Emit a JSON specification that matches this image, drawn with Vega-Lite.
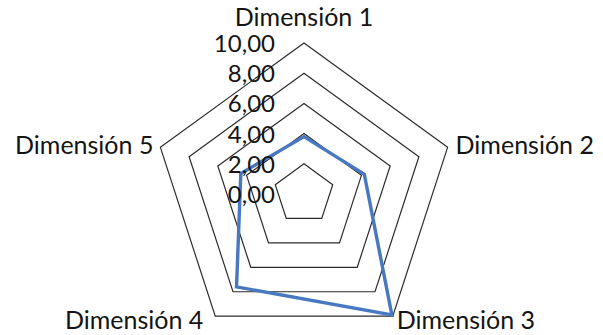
{
  "$schema": "https://vega.github.io/schema/vega-lite/v6.json",
  "width": 603,
  "height": 335,
  "padding": 0,
  "autosize": {"type": "none"},
  "config": {"view": {"stroke": null}, "text": {"font": "Lato", "fontSize": 25, "color": "#141414"}},
  "datasets": {
    "series": [
      {"dim": "Dimensión 1", "k": 0, "value": 3.8},
      {"dim": "Dimensión 2", "k": 1, "value": 4.2},
      {"dim": "Dimensión 3", "k": 2, "value": 9.9},
      {"dim": "Dimensión 4", "k": 3, "value": 7.6},
      {"dim": "Dimensión 5", "k": 4, "value": 4.4}
    ],
    "levels": [
      {"level": 0, "label": "0,00", "k": []},
      {"level": 2, "label": "2,00", "k": [0, 1, 2, 3, 4]},
      {"level": 4, "label": "4,00", "k": [0, 1, 2, 3, 4]},
      {"level": 6, "label": "6,00", "k": [0, 1, 2, 3, 4]},
      {"level": 8, "label": "8,00", "k": [0, 1, 2, 3, 4]},
      {"level": 10, "label": "10,00", "k": [0, 1, 2, 3, 4]}
    ]
  },
  "layer": [
    {
      "data": {"name": "levels"},
      "transform": [
        {"flatten": ["k"]},
        {"filter": "datum.level > 0"},
        {"calculate": "datum.level * cos(PI/2 - datum.k * 2 * PI / 5)", "as": "px"},
        {"calculate": "datum.level * sin(PI/2 - datum.k * 2 * PI / 5)", "as": "py"}
      ],
      "mark": {"type": "line", "interpolate": "linear-closed", "color": "#2b2b2b", "strokeWidth": 1.2},
      "encoding": {
        "x": {"field": "px", "type": "quantitative", "scale": {"domain": [-20.132, 19.801], "nice": false, "zero": false}, "axis": null},
        "y": {"field": "py", "type": "quantitative", "scale": {"domain": [-9.338, 12.848], "nice": false, "zero": false}, "axis": null},
        "detail": {"field": "level"},
        "order": {"field": "k"}
      }
    },
    {
      "data": {"name": "series"},
      "transform": [
        {"calculate": "datum.value * cos(PI/2 - datum.k * 2 * PI / 5)", "as": "px"},
        {"calculate": "datum.value * sin(PI/2 - datum.k * 2 * PI / 5)", "as": "py"}
      ],
      "mark": {"type": "line", "interpolate": "linear-closed", "color": "#4878C0", "strokeWidth": 3.4},
      "encoding": {
        "x": {"field": "px", "type": "quantitative"},
        "y": {"field": "py", "type": "quantitative"},
        "order": {"field": "k"}
      }
    },
    {
      "data": {"name": "levels"},
      "mark": {"type": "text", "align": "right", "baseline": "alphabetic", "dx": -29, "dy": 9, "fontSize": 24},
      "encoding": {
        "x": {"datum": 0, "type": "quantitative"},
        "y": {"field": "level", "type": "quantitative"},
        "text": {"field": "label"}
      }
    },
    {
      "data": {"name": "series"},
      "transform": [
        {"calculate": "10 * cos(PI/2 - datum.k * 2 * PI / 5)", "as": "px"},
        {"calculate": "10 * sin(PI/2 - datum.k * 2 * PI / 5)", "as": "py"}
      ],
      "layer": [
        {
          "transform": [{"filter": "datum.k == 0"}],
          "mark": {"type": "text", "align": "center", "baseline": "alphabetic", "dy": -17},
          "encoding": {"x": {"field": "px", "type": "quantitative"}, "y": {"field": "py", "type": "quantitative"}, "text": {"field": "dim"}}
        },
        {
          "transform": [{"filter": "datum.k == 1"}],
          "mark": {"type": "text", "align": "left", "baseline": "alphabetic", "dx": 8, "dy": 7},
          "encoding": {"x": {"field": "px", "type": "quantitative"}, "y": {"field": "py", "type": "quantitative"}, "text": {"field": "dim"}}
        },
        {
          "transform": [{"filter": "datum.k == 4"}],
          "mark": {"type": "text", "align": "right", "baseline": "alphabetic", "dx": -7, "dy": 7},
          "encoding": {"x": {"field": "px", "type": "quantitative"}, "y": {"field": "py", "type": "quantitative"}, "text": {"field": "dim"}}
        },
        {
          "transform": [{"filter": "datum.k == 2"}],
          "mark": {"type": "text", "align": "left", "baseline": "alphabetic", "dx": 4, "dy": 13},
          "encoding": {"x": {"field": "px", "type": "quantitative"}, "y": {"field": "py", "type": "quantitative"}, "text": {"field": "dim"}}
        },
        {
          "transform": [{"filter": "datum.k == 3"}],
          "mark": {"type": "text", "align": "right", "baseline": "alphabetic", "dx": -12, "dy": 13},
          "encoding": {"x": {"field": "px", "type": "quantitative"}, "y": {"field": "py", "type": "quantitative"}, "text": {"field": "dim"}}
        }
      ]
    }
  ]
}
